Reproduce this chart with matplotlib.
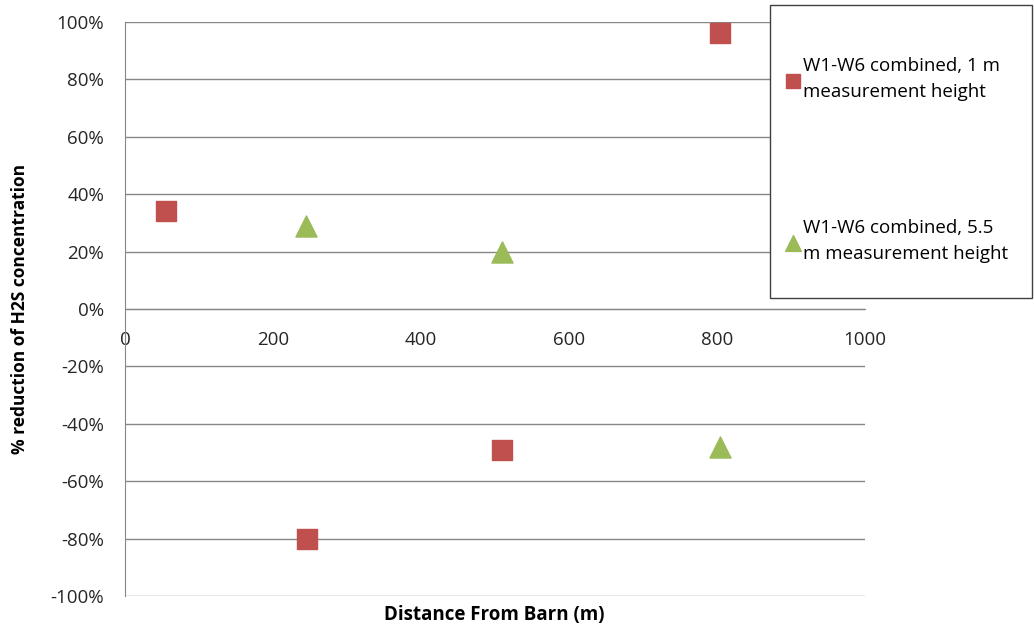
import matplotlib
matplotlib.use("Agg")
import matplotlib.pyplot as plt
from matplotlib.patches import Rectangle
from matplotlib.ticker import FuncFormatter

# data
dist_1m = [55, 246, 509, 804]
red_1m = [34, -80, -49, 96]
dist_55m = [245, 509, 804]
red_55m = [29, 20, -48]

label_1m = "W1-W6 combined, 1 m\nmeasurement height"
label_55m = "W1-W6 combined, 5.5\nm measurement height"

plt.rcParams['font.family'] = ['Open Sans', 'DejaVu Sans']
plt.rcParams['axes.unicode_minus'] = False

fig = plt.figure(figsize=(10.34, 6.3), dpi=100)
ax = fig.add_axes([125/1034, 1 - 596/630, 740/1034, 574/630])

gcol = '#868686'
ax.scatter(dist_1m, red_1m, marker='s', s=190, color='#C0504D', zorder=3, label=label_1m)
ax.scatter(dist_55m, red_55m, marker='^', s=230, color='#9BBB59', zorder=3, label=label_55m)

ax.set_xlim(0, 1000)
ax.set_ylim(-100, 100)
ax.set_xticks(range(0, 1001, 200))
ax.set_yticks(range(-100, 101, 20))
ax.yaxis.set_major_formatter(FuncFormatter(lambda v, p: "%d%%" % v))
ax.grid(axis='y', color=gcol, linewidth=1)
ax.set_axisbelow(True)

for s in ['top', 'right']:
    ax.spines[s].set_visible(False)
ax.spines['left'].set_color(gcol)
ax.spines['bottom'].set_position(('data', 0))
ax.spines['bottom'].set_color(gcol)
ax.tick_params(length=0, labelsize=13.5, colors='#262626')
ax.tick_params(axis='x', pad=16)
ax.tick_params(axis='y', pad=15)

fig.text(494/1034, 1 - 615/630, "Distance From Barn (m)", ha='center', va='center',
         fontsize=13.5, fontweight='bold')
fig.text(20/1034, 1 - 309/630, "% reduction of H2S concentration", ha='center', va='center',
         rotation=90, fontsize=12.5, fontweight='bold')

# legend box
fig.patches.append(Rectangle((770/1034, 1 - 298/630), 262/1034, 293/630,
                             transform=fig.transFigure, facecolor='white',
                             edgecolor='#404040', linewidth=1, zorder=5))
leg = fig.legend(loc='center left', bbox_to_anchor=(774/1034, 1 - 160/630),
                 frameon=False, fontsize=13.5, labelspacing=6.3, borderpad=0,
                 handletextpad=0.05, handlelength=1.0, markerscale=0.75)
for t in leg.get_texts():
    t.set_linespacing(1.55)
leg.set_zorder(6)

fig.savefig("out.png", dpi=100)
